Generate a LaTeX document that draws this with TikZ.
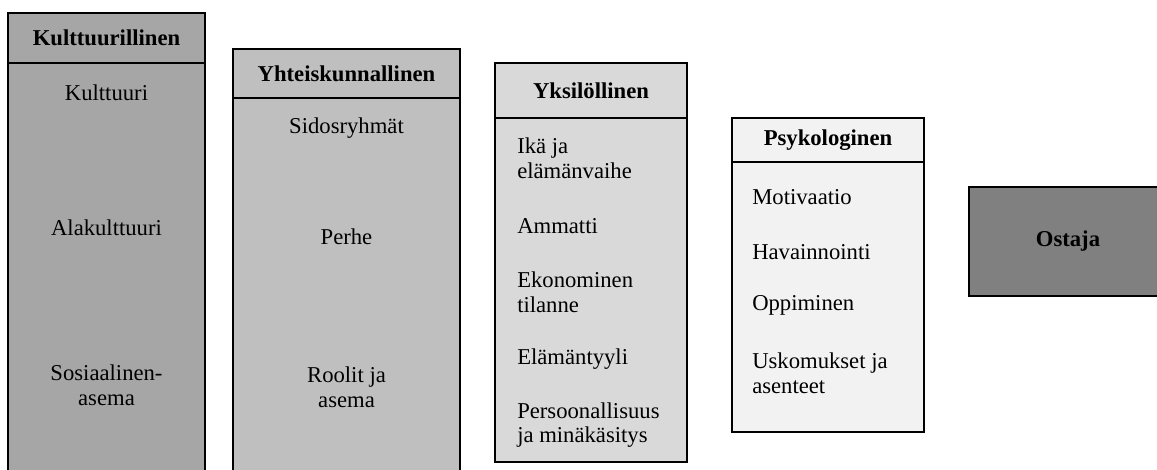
\documentclass[tikz,border=0pt]{standalone}
\usepackage{fontspec}
\setmainfont{Liberation Serif}
\usepackage{tikz}
\usetikzlibrary{positioning}
\definecolor{harmaa1}{HTML}{A6A6A6}
\definecolor{harmaa2}{HTML}{BFBFBF}
\definecolor{harmaa3}{HTML}{D9D9D9}
\definecolor{harmaa4}{HTML}{F2F2F2}
\definecolor{harmaa5}{HTML}{808080}
\newcommand{\kirjain}{\fontsize{17}{18.6}\selectfont}
\tikzstyle{laatikko}=[
	draw=black,
	line width=1pt,
	inner sep=0pt,
	outer sep=0pt
]
\tikzstyle{otsikko}=[
	laatikko,
	font=\kirjain\bfseries
]
\tikzstyle{keski}=[
	inner sep=0pt,
	align=center,
	font=\kirjain
]
\tikzstyle{vasen}=[
	inner sep=0pt,
	anchor=west,
	align=left,
	font=\kirjain
]

\begin{document}
\begin{tikzpicture}[x=0.75pt,y=-0.75pt]
\useasboundingbox (0,0) rectangle (1157,469);
\clip (0,0) rectangle (1157,469);

% Kulttuurillinen
\node[otsikko, fill=harmaa1, minimum width=147.75pt, minimum height=37.5pt, anchor=north west] (kult) at (8,13) {Kulttuurillinen};
\node[laatikko, fill=harmaa1, minimum width=147.75pt, minimum height=320pt, below=0pt of kult] (kultrunko) {};
\node[keski] (kulttuuri) at (106.5,93) {Kulttuuri};
\node[keski] (alakult) at (106.5,228) {Alakulttuuri};
\node[keski] (sosiaal) at (106.5,385) {Sosiaalinen-\\asema};

% Yhteiskunnallinen
\node[otsikko, fill=harmaa2, minimum width=170.25pt, minimum height=36.75pt, anchor=north west] (yht) at (233,49) {Yhteiskunnallinen};
\node[laatikko, fill=harmaa2, minimum width=170.25pt, minimum height=300pt, below=0pt of yht] (yhtrunko) {};
\node[keski] (sidos) at (346.5,128) {Sidosryhmät};
\node[keski] (perhe) at (346.5,237) {Perhe};
\node[keski] (roolit) at (346.5,387) {Roolit ja\\asema};

% Yksilöllinen
\node[otsikko, fill=harmaa3, minimum width=144pt, minimum height=41.25pt, anchor=north west] (yks) at (495,63) {Yksilöllinen};
\node[laatikko, fill=harmaa3, minimum width=144pt, minimum height=258pt, below=0pt of yks] (yksrunko) {};
\node[vasen] (ika) at (517,158) {Ikä ja\\elämänvaihe};
\node[vasen] (ammatti) at (517,226) {Ammatti};
\node[vasen] (ekon) at (517,292) {Ekonominen\\tilanne};
\node[vasen] (tyyli) at (517,359) {Elämäntyyli};
\node[vasen] (persoona) at (517,425) {Persoonallisuus\\ja minäkäsitys};

% Psykologinen
\node[otsikko, fill=harmaa4, minimum width=144pt, minimum height=33pt, anchor=north west] (psyk) at (732,118) {Psykologinen};
\node[laatikko, fill=harmaa4, minimum width=144pt, minimum height=202.5pt, below=0pt of psyk] (psykrunko) {};
\node[vasen] (motiv) at (752,197) {Motivaatio};
\node[vasen] (havain) at (752,252) {Havainnointi};
\node[vasen] (oppim) at (752,305) {Oppiminen};
\node[vasen] (uskom) at (752,373) {Uskomukset ja\\asenteet};

% Ostaja
\node[otsikko, fill=harmaa5, minimum width=148.5pt, minimum height=81.75pt, anchor=north west] (ostaja) at (969,187) {Ostaja};

\end{tikzpicture}
\end{document}
